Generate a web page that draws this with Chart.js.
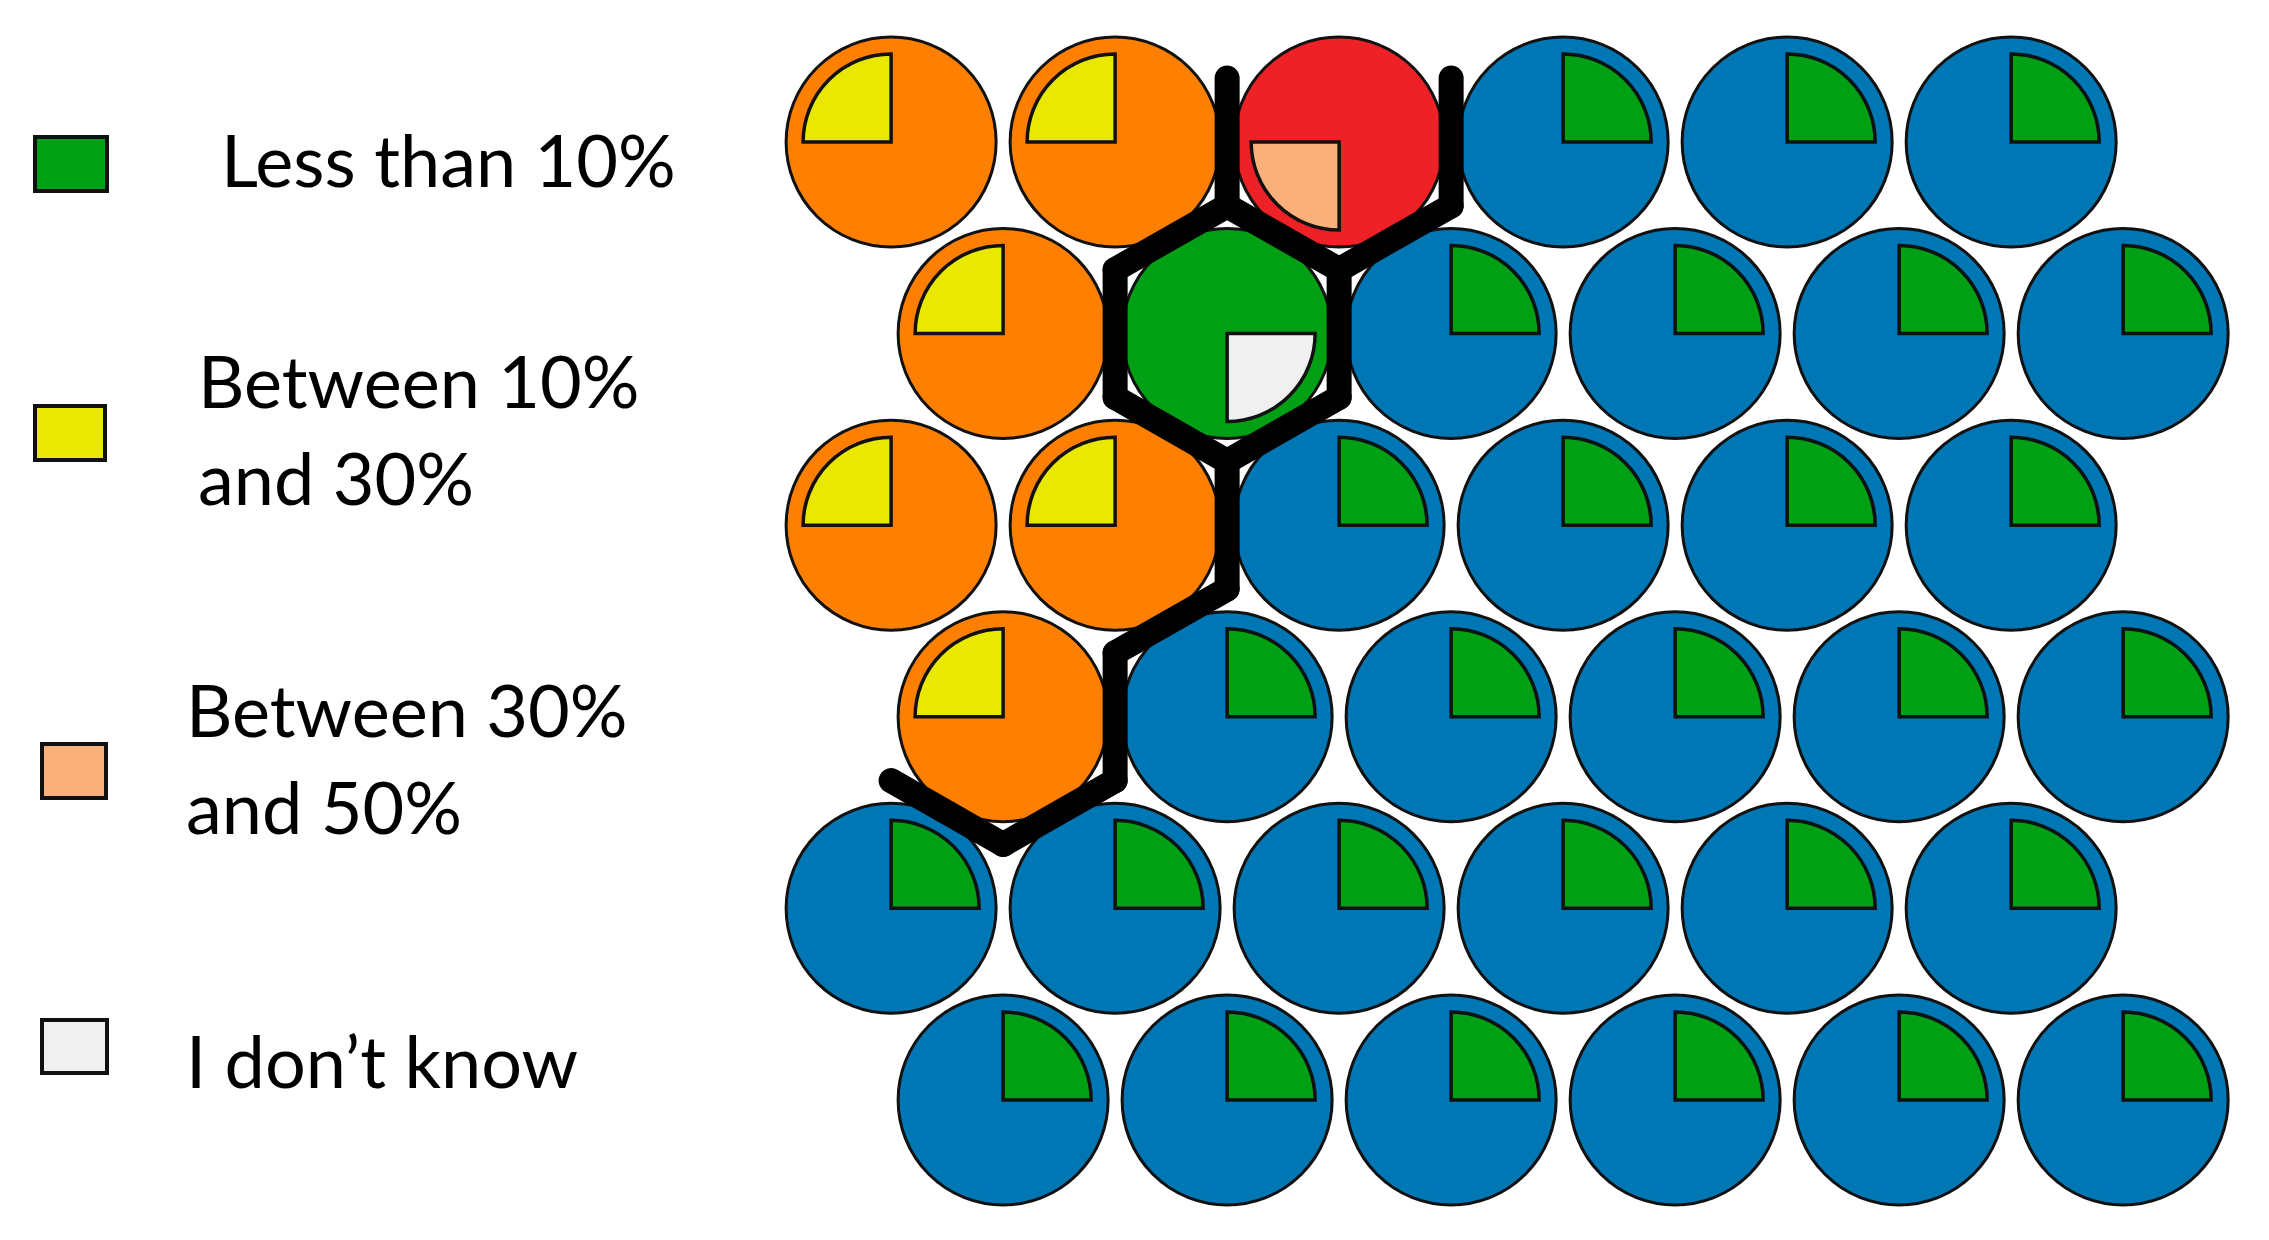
<!DOCTYPE html>
<html>
<head>
<meta charset="utf-8">
<title>Hex grid</title>
<script src="https://cdn.jsdelivr.net/npm/chart.js@4.4.1/dist/chart.umd.min.js"></script>
<style>
  html, body { margin: 0; padding: 0; background: #fff; }
  #wrap { position: relative; width: 2269px; height: 1240px; overflow: hidden; }
  #grafico { position: absolute; left: 0; top: 0; }
  .caixa { position: absolute; border: 4px solid #111; box-sizing: border-box; }
  .rotulo { position: absolute; font-family: Lato, sans-serif; font-size: 72px; line-height: 97px; color: #000; white-space: nowrap; }
</style>
</head>
<body>
<div id="wrap">
  <canvas id="grafico" width="2269" height="1240"></canvas>
  <div id="legenda"></div>
</div>
<script>
// cluster of each cell, row by row (odd rows are shifted half a cell right)
const clusterRows = [
    [1, 1, 2, 3, 3, 3],
    [1, 4, 3, 3, 3, 3],
    [1, 1, 3, 3, 3, 3],
    [1, 3, 3, 3, 3, 3],
    [3, 3, 3, 3, 3, 3],
    [3, 3, 3, 3, 3, 3]
];

// answer shown as the small slice of each cell
const answerRows = [
    ['10to30', '10to30', '30to50', 'lt10', 'lt10', 'lt10'],
    ['10to30', 'unknown', 'lt10', 'lt10', 'lt10', 'lt10'],
    ['10to30', '10to30', 'lt10', 'lt10', 'lt10', 'lt10'],
    ['10to30', 'lt10', 'lt10', 'lt10', 'lt10', 'lt10'],
    ['lt10', 'lt10', 'lt10', 'lt10', 'lt10', 'lt10'],
    ['lt10', 'lt10', 'lt10', 'lt10', 'lt10', 'lt10']
];

const answerKeys = ['lt10', '10to30', '30to50', 'unknown'];
const answerLabels = [
    ['Less than 10%'],
    ['Between 10%', 'and 30%'],
    ['Between 30%', 'and 50%'],
    ['I don\u2019t know']
];

document.addEventListener('DOMContentLoaded', function() {
    // estilos
    const clusterColors = { 1: '#ff8000', 2: '#ee2226', 3: '#0077b5', 4: '#00a014' };
    const answerColors = { lt10: '#00a014', '10to30': '#e8e800', '30to50': '#fab07a', unknown: '#f0f0f0' };
    // quadrant of the slice (canvas angles)
    const answerQuadrant = {
        lt10: [-Math.PI / 2, 0],
        '10to30': [-Math.PI, -Math.PI / 2],
        '30to50': [Math.PI / 2, Math.PI],
        unknown: [0, Math.PI / 2]
    };
    const circleRadius = 105;
    const wedgeRadius = 88;

    // legend (html)
    const legendBoxes = [
        { left: 33, top: 135, w: 76, h: 58, textLeft: 221, baseline: 187 },
        { left: 33, top: 404, w: 74, h: 58, textLeft: 198, baseline: 408 },
        { left: 40, top: 742, w: 68, h: 58, textLeft: 186, baseline: 737 },
        { left: 40, top: 1018, w: 69, h: 57, textLeft: 186, baseline: 1088 }
    ];
    const legenda = document.getElementById('legenda');
    answerKeys.forEach((key, i) => {
        const pos = legendBoxes[i];
        const caixa = document.createElement('div');
        caixa.className = 'caixa';
        caixa.style.left = pos.left + 'px';
        caixa.style.top = pos.top + 'px';
        caixa.style.width = pos.w + 'px';
        caixa.style.height = pos.h + 'px';
        caixa.style.background = answerColors[key];
        legenda.appendChild(caixa);

        const rotulo = document.createElement('div');
        rotulo.className = 'rotulo';
        rotulo.style.left = pos.textLeft + 'px';
        rotulo.style.top = (pos.baseline - 76) + 'px';
        rotulo.innerHTML = answerLabels[i].join('<br>');
        legenda.appendChild(rotulo);
    });

    // cells
    const cells = [];
    clusterRows.forEach((row, r) => {
        row.forEach((cluster, c) => {
            cells.push({ x: c + (r % 2) * 0.5, y: r, cluster: cluster, answer: answerRows[r][c] });
        });
    });

    // borders between cells of different clusters
    const edges = [];
    const third = 1 / 3;
    clusterRows.forEach((row, r) => {
        row.forEach((cluster, c) => {
            const x = c + (r % 2) * 0.5;
            if (c + 1 < row.length && row[c + 1] !== cluster) {
                edges.push([{ x: x + 0.5, y: r - third }, { x: x + 0.5, y: r + third }]);
            }
            if (r + 1 < clusterRows.length) {
                const below = clusterRows[r + 1];
                const leftCol = r % 2 === 0 ? c - 1 : c;
                const rightCol = r % 2 === 0 ? c : c + 1;
                if (leftCol >= 0 && below[leftCol] !== cluster) {
                    edges.push([{ x: x - 0.5, y: r + third }, { x: x, y: r + 2 * third }]);
                }
                if (rightCol < below.length && below[rightCol] !== cluster) {
                    edges.push([{ x: x, y: r + 2 * third }, { x: x + 0.5, y: r + third }]);
                }
            }
        });
    });

    const wedgePlugin = {
        id: 'fatias',
        afterDatasetDraw(chart, args) {
            if (args.index !== 0) return;
            const ctx = chart.ctx;
            args.meta.data.forEach((pt, i) => {
                const cell = cells[i];
                const q = answerQuadrant[cell.answer];
                ctx.save();
                ctx.beginPath();
                ctx.moveTo(pt.x, pt.y);
                ctx.arc(pt.x, pt.y, wedgeRadius, q[0], q[1]);
                ctx.closePath();
                ctx.fillStyle = answerColors[cell.answer];
                ctx.fill();
                ctx.lineWidth = 3.5;
                ctx.lineJoin = 'miter';
                ctx.strokeStyle = '#111';
                ctx.stroke();
                ctx.restore();
            });
        }
    };

    const datasets = [{
        label: 'cells',
        data: cells.map(c => ({ x: c.x, y: c.y })),
        pointRadius: circleRadius,
        pointBackgroundColor: cells.map(c => clusterColors[c.cluster]),
        pointBorderColor: '#111',
        pointBorderWidth: 3,
        order: 2
    }];
    edges.forEach(e => {
        datasets.push({
            label: 'border',
            data: e,
            showLine: true,
            pointRadius: 0,
            borderColor: '#000',
            borderWidth: 25,
            borderCapStyle: 'round',
            borderJoinStyle: 'round',
            order: 1
        });
    });

    const ctx = document.getElementById('grafico').getContext('2d');
    new Chart(ctx, {
        type: 'scatter',
        data: { datasets: datasets },
        options: {
            responsive: false,
            animation: false,
            events: [],
            layout: { autoPadding: false, padding: 0 },
            plugins: {
                legend: { display: false },
                tooltip: { enabled: false }
            },
            scales: {
                x: { type: 'linear', min: -3.978, max: 6.151, display: false },
                y: { type: 'linear', min: -0.741, max: 5.731, reverse: true, display: false }
            }
        },
        plugins: [wedgePlugin]
    });
});
</script>
</body>
</html>
